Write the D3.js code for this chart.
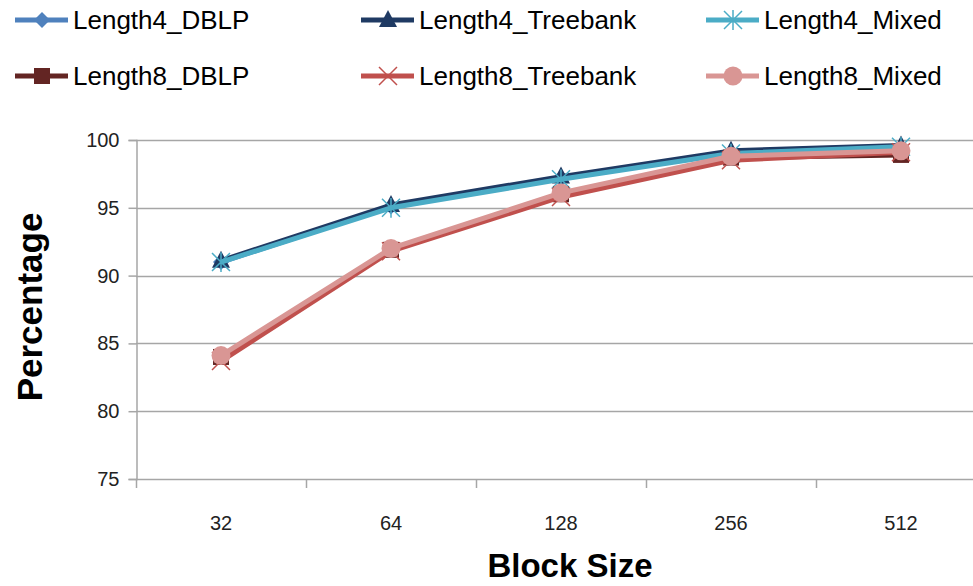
<!DOCTYPE html>
<html><head><meta charset="utf-8">
<script src="https://cdn.jsdelivr.net/npm/d3@7/dist/d3.min.js"></script>
<style>body{margin:0;background:#fff}svg{display:block}</style>
</head><body>
<script>
const categories = ["32","64","128","256","512"];
const yTicks = [75,80,85,90,95,100];
const seriesNames = ["Length4_DBLP","Length4_Treebank","Length4_Mixed","Length8_DBLP","Length8_Treebank","Length8_Mixed"];
const length4_DBLP = [91.0,95.1,97.2,99.1,99.5];
const length4_Treebank = [91.1,95.2,97.3,99.2,99.6];
const length4_Mixed = [91.0,95.0,97.1,99.0,99.5];
const length8_DBLP = [84.0,91.9,96.0,98.7,98.9];
const length8_Treebank = [83.7,91.8,95.8,98.5,99.1];
const length8_Mixed = [84.1,92.0,96.1,98.8,99.2];
const seriesValues = [length4_DBLP,length4_Treebank,length4_Mixed,length8_DBLP,length8_Treebank,length8_Mixed];
const colors = ["#4F81BD","#1F3A63","#4BACC6","#632523","#C0504D","#D99694"];
const markers = ["diamond","triangle","asterisk","square","x","circle"];

const W=973,H=586;
const svg=d3.select("body").append("svg").attr("width",W).attr("height",H);
const font="Liberation Sans, Arial, sans-serif";
const x=d3.scaleBand().domain(categories).range([136,986]);
const y=d3.scaleLinear().domain([75,100]).range([479,140]);

svg.append("g").selectAll("line").data(yTicks).join("line")
 .attr("x1",136).attr("x2",W).attr("y1",d=>Math.round(y(d))+0.5).attr("y2",d=>Math.round(y(d))+0.5)
 .attr("stroke","#A6A6A6").attr("stroke-width",1.5);
const yAxis=svg.append("g").attr("transform","translate(136.5,0)")
 .call(d3.axisLeft(y).tickValues(yTicks).tickSize(8).tickPadding(9));
yAxis.select(".domain").attr("stroke","#A6A6A6").attr("stroke-width",1.5);
yAxis.selectAll(".tick line").attr("stroke","#A6A6A6").attr("stroke-width",1.5);
yAxis.selectAll(".tick text").attr("font-family",font).attr("font-size",20).attr("fill","#222");
const xAxis=svg.append("g").attr("transform","translate(0,"+(Math.round(y(75))+0.5)+")")
 .call(d3.axisBottom(x).tickSize(0).tickPadding(36));
xAxis.select(".domain").remove();
xAxis.selectAll(".tick text").attr("font-family",font).attr("font-size",20).attr("fill","#222");
svg.append("g").selectAll("line").data(categories).join("line")
 .attr("x1",d=>Math.round(x(d))+0.5).attr("x2",d=>Math.round(x(d))+0.5)
 .attr("y1",y(75)).attr("y2",y(75)+9).attr("stroke","#A6A6A6").attr("stroke-width",1.5);

svg.append("text").attr("transform","translate(42,307) rotate(-90)").attr("text-anchor","middle")
 .attr("font-family",font).attr("font-weight","bold").attr("font-size",35).attr("fill","#000").text("Percentage");
svg.append("text").attr("x",570).attr("y",577).attr("text-anchor","middle")
 .attr("font-family",font).attr("font-weight","bold").attr("font-size",33).attr("fill","#000").text("Block Size");

function drawMarker(g,type,cx,cy,color,s){
  s=s||1;
  if(type==="diamond"){g.append("path").attr("d",`M${cx},${cy-8*s}L${cx+8*s},${cy}L${cx},${cy+8*s}L${cx-8*s},${cy}Z`).attr("fill",color);}
  else if(type==="triangle"){g.append("path").attr("d",`M${cx},${cy-10*s}L${cx+9*s},${cy+7*s}L${cx-9*s},${cy+7*s}Z`).attr("fill",color);}
  else if(type==="square"){g.append("rect").attr("x",cx-8*s).attr("y",cy-8*s).attr("width",16*s).attr("height",16*s).attr("fill",color);}
  else if(type==="circle"){g.append("circle").attr("cx",cx).attr("cy",cy).attr("r",9.5*s).attr("fill",color);}
  else if(type==="x"){const r=9*s;g.append("path").attr("d",`M${cx-r},${cy-r}L${cx+r},${cy+r}M${cx-r},${cy+r}L${cx+r},${cy-r}`).attr("stroke",color).attr("stroke-width",1.5).attr("fill","none");}
  else if(type==="asterisk"){const r=9*s;g.append("path").attr("d",`M${cx-r},${cy-r}L${cx+r},${cy+r}M${cx-r},${cy+r}L${cx+r},${cy-r}M${cx},${cy-r*1.1}L${cx},${cy+r*1.1}`).attr("stroke",color).attr("stroke-width",1.5).attr("fill","none");}
}

const line=d3.line().x((d,i)=>x(categories[i])+x.bandwidth()/2).y(d=>y(d));
seriesValues.forEach((vals,k)=>{
  const g=svg.append("g");
  g.append("path").datum(vals).attr("d",line).attr("fill","none").attr("stroke",colors[k]).attr("stroke-width",5).attr("stroke-linejoin","round");
  vals.forEach((v,i)=>drawMarker(g,markers[k],x(categories[i])+x.bandwidth()/2,y(v),colors[k]));
});

const legX=[15,361,706], legY=[20,76];
seriesNames.forEach((n,k)=>{
  const col=k%3,row=Math.floor(k/3);
  const g=svg.append("g").attr("transform",`translate(${legX[col]},${legY[row]})`);
  g.append("line").attr("x1",0).attr("x2",53).attr("y1",0).attr("y2",0).attr("stroke",colors[k]).attr("stroke-width",5);
  drawMarker(g,markers[k],27,0,colors[k]);
  g.append("text").attr("x",58).attr("y",0).attr("dy","0.35em").attr("font-family",font).attr("font-size",26).attr("fill","#000").text(n);
});
</script>
</body></html>
